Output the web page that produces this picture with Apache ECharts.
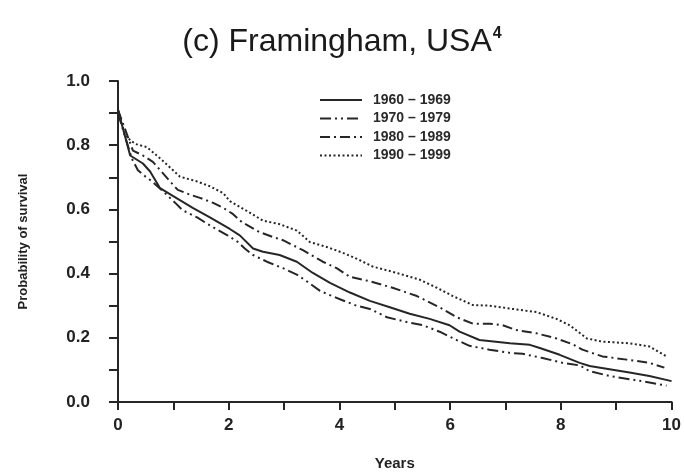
<!DOCTYPE html>
<html>
<head>
<meta charset="utf-8">
<script src="https://cdn.jsdelivr.net/npm/echarts@6/dist/echarts.min.js"></script>
<style>
  html, body { margin: 0; padding: 0; background: #fff; }
  #chart { width: 684px; height: 476px; }
</style>
</head>
<body>
<div id="chart"></div>
<script>
// Survival curves, Framingham cohorts by decade: [years, probability of survival]
const seriesNames = ['1960 – 1969', '1970 – 1979', '1980 – 1989', '1990 – 1999'];

const surv1960s = [
  [0, 0.91], [0.22, 0.768], [0.45, 0.743], [0.58, 0.718], [0.76, 0.666], [0.99, 0.642],
  [1.35, 0.605], [1.66, 0.575], [2.02, 0.539], [2.20, 0.519], [2.44, 0.478], [2.62, 0.468],
  [2.92, 0.458], [3.23, 0.437], [3.52, 0.402], [3.83, 0.371], [4.19, 0.341], [4.55, 0.315],
  [4.91, 0.295], [5.27, 0.275], [5.63, 0.259], [5.99, 0.239], [6.17, 0.219], [6.53, 0.193],
  [7.08, 0.183], [7.44, 0.178], [7.62, 0.168], [7.98, 0.147], [8.34, 0.122], [8.52, 0.112],
  [8.88, 0.102], [9.24, 0.092], [9.60, 0.081], [10, 0.065]
];

const surv1970s = [
  [0, 0.90], [0.25, 0.758], [0.36, 0.722], [0.49, 0.703], [0.61, 0.688], [0.81, 0.657],
  [1.03, 0.621], [1.17, 0.597], [1.43, 0.575], [1.66, 0.55], [1.97, 0.52], [2.17, 0.498],
  [2.29, 0.478], [2.44, 0.458], [2.69, 0.437], [2.98, 0.417], [3.23, 0.397], [3.41, 0.376],
  [3.65, 0.346], [4.01, 0.32], [4.31, 0.30], [4.55, 0.29], [4.86, 0.264], [5.22, 0.249],
  [5.51, 0.239], [5.81, 0.219], [6.12, 0.193], [6.35, 0.175], [6.71, 0.163], [7.08, 0.153],
  [7.31, 0.15], [7.67, 0.137], [8.03, 0.122], [8.34, 0.114], [8.52, 0.096], [8.88, 0.081],
  [9.24, 0.071], [9.60, 0.061], [9.91, 0.051]
];

const surv1980s = [
  [0, 0.91], [0.27, 0.783], [0.45, 0.768], [0.63, 0.748], [0.79, 0.717], [0.94, 0.687],
  [1.08, 0.661], [1.30, 0.646], [1.48, 0.636], [1.71, 0.621], [1.90, 0.605], [2.08, 0.585],
  [2.24, 0.56], [2.56, 0.529], [2.80, 0.514], [2.98, 0.504], [3.34, 0.473], [3.70, 0.437],
  [3.95, 0.417], [4.19, 0.39], [4.55, 0.376], [4.96, 0.356], [5.40, 0.33], [5.81, 0.295],
  [6.12, 0.264], [6.41, 0.244], [6.71, 0.244], [6.95, 0.239], [7.20, 0.224], [7.56, 0.214],
  [7.92, 0.198], [8.21, 0.18], [8.39, 0.163], [8.75, 0.142], [9.19, 0.132], [9.60, 0.122],
  [9.87, 0.107]
];

const surv1990s = [
  [0, 0.91], [0.13, 0.829], [0.31, 0.804], [0.52, 0.794], [0.70, 0.768], [0.90, 0.737],
  [1.12, 0.702], [1.43, 0.687], [1.66, 0.672], [1.90, 0.651], [2.02, 0.626], [2.33, 0.595],
  [2.62, 0.565], [2.92, 0.554], [3.23, 0.534], [3.47, 0.498], [3.77, 0.483], [4.06, 0.465],
  [4.33, 0.445], [4.60, 0.422], [5.04, 0.402], [5.45, 0.381], [5.76, 0.356], [6.05, 0.33],
  [6.41, 0.302], [6.71, 0.30], [7.13, 0.29], [7.56, 0.28], [7.92, 0.259], [8.16, 0.239],
  [8.47, 0.198], [8.75, 0.188], [9.24, 0.183], [9.60, 0.173], [9.91, 0.142]
];

const allData = [surv1960s, surv1970s, surv1980s, surv1990s];

// Dash patterns: solid, dash-dot-dot, dash-dot, dotted
const dashTypes = ['solid', [11, 4, 2, 4, 2, 4], [10, 4, 2, 4], [2, 2.5]];

const ink = '#262626';
const font = '"Liberation Sans", Arial, sans-serif';

const chart = echarts.init(document.getElementById('chart'), null, { renderer: 'canvas' });

chart.setOption({
  animation: false,
  backgroundColor: '#ffffff',
  title: {
    text: '{m|(c) Framingham, USA}{s|4}',
    left: 'center',
    top: 21,
    textStyle: {
      rich: {
        m: { fontFamily: font, fontSize: 32, fontWeight: 'normal', color: '#1a1a1a' },
        s: { fontFamily: font, fontSize: 16, color: '#1a1a1a', verticalAlign: 'top', padding: [0, 0, 14, 1] }
      }
    }
  },
  legend: {
    orient: 'vertical',
    left: 314,
    top: 88,
    itemWidth: 42,
    itemHeight: 14,
    itemGap: 4.5,
    data: seriesNames,
    itemStyle: { opacity: 0 },
    textStyle: {
      fontFamily: font, fontSize: 14, fontWeight: 'bold', color: '#2a2a2a',
      padding: [0, 0, 0, 6]
    }
  },
  grid: { left: 118, right: 12, top: 81, bottom: 68 },
  xAxis: {
    type: 'value',
    min: 0,
    max: 10,
    interval: 1,
    name: 'Years',
    nameLocation: 'middle',
    nameGap: 54,
    nameTextStyle: { fontFamily: font, fontSize: 15, fontWeight: 'bold', color: '#222' },
    axisLine: { lineStyle: { color: ink, width: 2 } },
    axisTick: { length: 8, lineStyle: { color: ink, width: 2 } },
    axisLabel: {
      margin: 15,
      fontFamily: font, fontSize: 17, fontWeight: 'bold', color: '#222',
      formatter: v => (v % 2 === 0 ? String(v) : '')
    },
    splitLine: { show: false }
  },
  yAxis: {
    type: 'value',
    min: 0,
    max: 1,
    interval: 0.2,
    name: 'Probability of survival',
    nameLocation: 'middle',
    nameGap: 88,
    nameTextStyle: { fontFamily: font, fontSize: 13, fontWeight: 'bold', color: '#222' },
    axisLine: { show: true, lineStyle: { color: ink, width: 2 } },
    axisTick: { show: true, length: 9, lineStyle: { color: ink, width: 2 } },
    minorTick: { show: true, splitNumber: 2, length: 9, lineStyle: { color: ink, width: 2 } },
    axisLabel: {
      margin: 28,
      fontFamily: font, fontSize: 17, fontWeight: 'bold', color: '#222',
      formatter: v => v.toFixed(1)
    },
    splitLine: { show: false }
  },
  series: allData.map((d, i) => ({
    name: seriesNames[i],
    type: 'line',
    data: d,
    symbol: 'none',
    smooth: false,
    lineStyle: { color: ink, width: 2, type: dashTypes[i] },
    itemStyle: { color: ink }
  }))
});
</script>
</body>
</html>
